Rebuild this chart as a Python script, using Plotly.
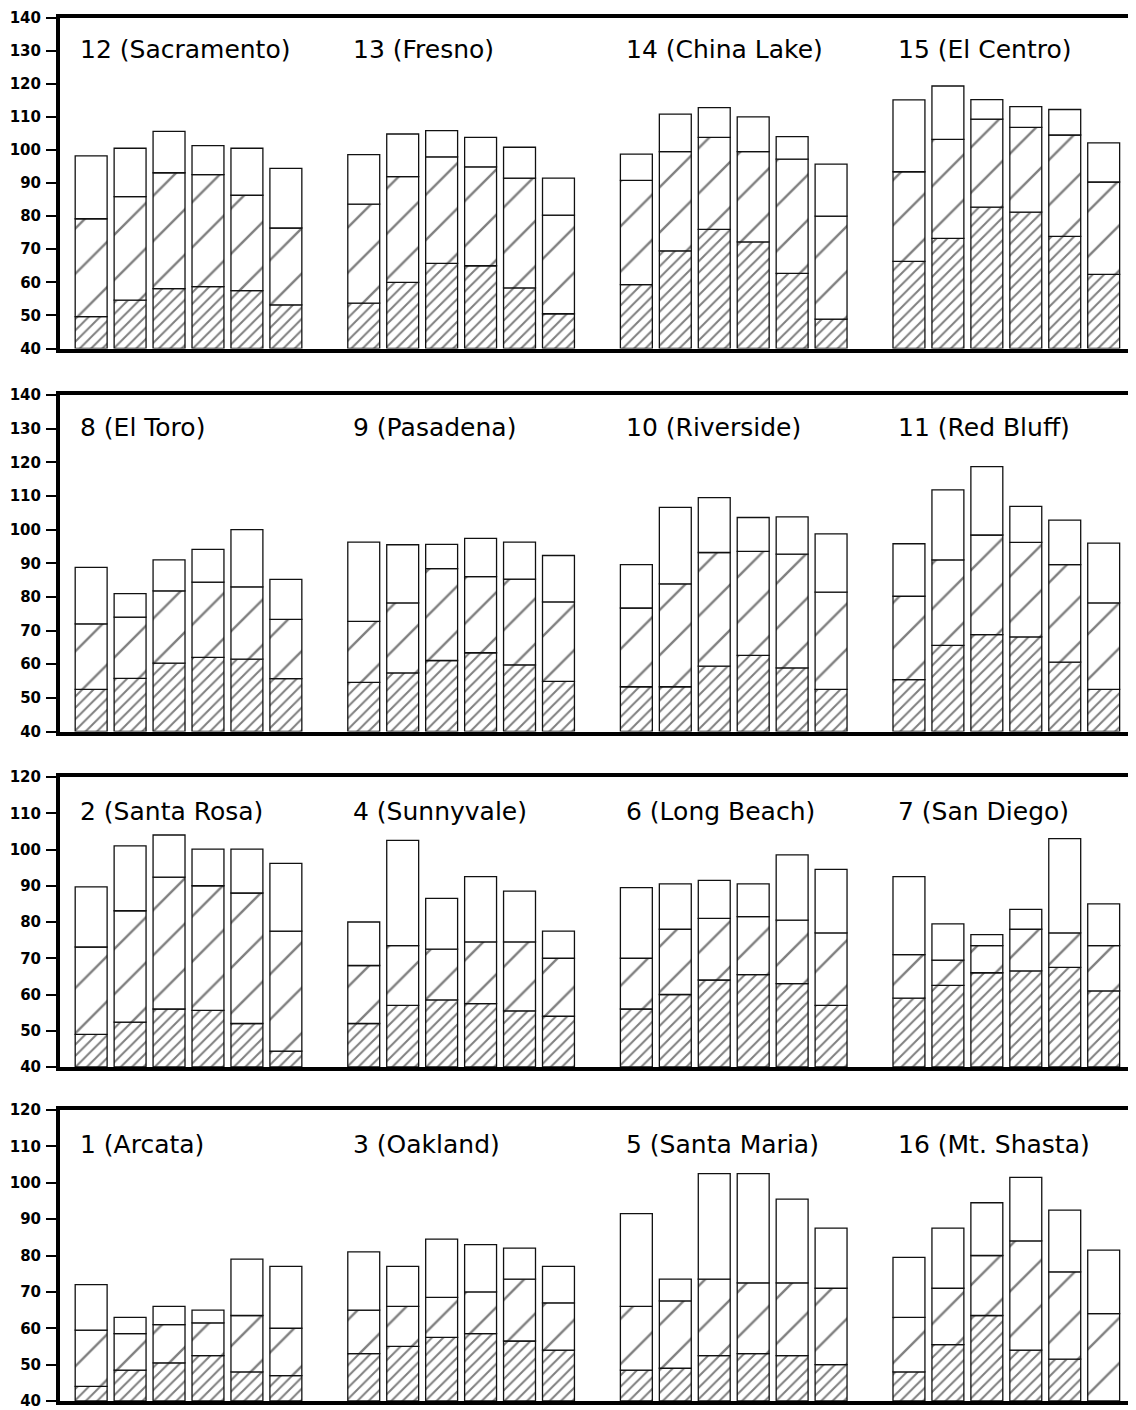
import plotly.graph_objects as go
from plotly.subplots import make_subplots

# station panels, one row of the figure per block
# low = top of dense-hatched part, mid = top of sparse-hatched part, high = bar top

row1_titles = ["12 (Sacramento)", "13 (Fresno)", "14 (China Lake)", "15 (El Centro)"]
row1_low = [[49.6, 54.6, 58.1, 58.7, 57.5, 53.2],
            [53.7, 60.0, 65.7, 65.0, 58.3, 50.5],
            [59.3, 69.5, 76.0, 72.2, 62.7, 48.9],
            [66.3, 73.3, 82.7, 81.2, 73.9, 62.4]]
row1_mid = [[79.2, 85.9, 93.1, 92.5, 86.3, 76.4],
            [83.6, 91.9, 97.9, 94.9, 91.5, 80.3],
            [90.8, 99.5, 103.8, 99.5, 97.2, 80.0],
            [93.4, 103.2, 109.3, 106.8, 104.5, 90.3]]
row1_high = [[98.2, 100.5, 105.6, 101.3, 100.5, 94.4],
             [98.6, 104.8, 105.8, 103.8, 100.8, 91.5],
             [98.7, 110.8, 112.8, 110.0, 104.0, 95.7],
             [115.1, 119.3, 115.2, 113.1, 112.2, 102.1]]

row2_titles = ["8 (El Toro)", "9 (Pasadena)", "10 (Riverside)", "11 (Red Bluff)"]
row2_low = [[52.5, 55.8, 60.3, 62.0, 61.5, 55.7],
            [54.6, 57.4, 61.1, 63.4, 59.8, 54.9],
            [53.3, 53.3, 59.4, 62.6, 58.9, 52.5],
            [55.4, 65.6, 68.8, 68.1, 60.6, 52.5]]
row2_mid = [[72.0, 74.0, 81.8, 84.4, 83.0, 73.3],
            [72.7, 78.2, 88.4, 86.0, 85.3, 78.5],
            [76.7, 83.9, 93.2, 93.5, 92.7, 81.4],
            [80.2, 91.0, 98.4, 96.2, 89.6, 78.2]]
row2_high = [[88.8, 81.0, 91.0, 94.1, 100.0, 85.2],
             [96.3, 95.5, 95.6, 97.4, 96.3, 92.3],
             [89.6, 106.6, 109.5, 103.6, 103.8, 98.7],
             [95.8, 111.8, 118.7, 106.9, 102.8, 96.0]]

row3_titles = ["2 (Santa Rosa)", "4 (Sunnyvale)", "6 (Long Beach)", "7 (San Diego)"]
row3_low = [[49.0, 52.4, 56.0, 55.6, 52.0, 44.4],
            [52.0, 57.0, 58.5, 57.5, 55.5, 54.0],
            [56.0, 60.0, 64.0, 65.5, 63.0, 57.0],
            [59.0, 62.5, 66.0, 66.5, 67.5, 61.0]]
row3_mid = [[73.1, 83.1, 92.4, 90.0, 88.0, 77.5],
            [68.0, 73.5, 72.5, 74.5, 74.5, 70.0],
            [70.0, 78.0, 81.0, 81.5, 80.5, 77.0],
            [71.0, 69.5, 73.5, 78.0, 77.0, 73.5]]
row3_high = [[89.7, 101.0, 104.0, 100.1, 100.1, 96.2],
             [80.0, 102.5, 86.5, 92.5, 88.5, 77.5],
             [89.5, 90.5, 91.5, 90.5, 98.5, 94.5],
             [92.5, 79.5, 76.5, 83.5, 103.0, 85.0]]

row4_titles = ["1 (Arcata)", "3 (Oakland)", "5 (Santa Maria)", "16 (Mt. Shasta)"]
row4_low = [[44.0, 48.5, 50.5, 52.5, 48.0, 47.0],
            [53.0, 55.0, 57.5, 58.5, 56.5, 54.0],
            [48.5, 49.0, 52.5, 53.0, 52.5, 50.0],
            [48.0, 55.5, 63.5, 54.0, 51.5, 40.0]]
row4_mid = [[59.5, 58.5, 61.0, 61.5, 63.5, 60.0],
            [65.0, 66.0, 68.5, 70.0, 73.5, 67.0],
            [66.0, 67.5, 73.5, 72.5, 72.5, 71.0],
            [63.0, 71.0, 80.0, 84.0, 75.5, 64.0]]
row4_high = [[72.0, 63.0, 66.0, 65.0, 79.0, 77.0],
             [81.0, 77.0, 84.5, 83.0, 82.0, 77.0],
             [91.5, 73.5, 102.5, 102.5, 95.5, 87.5],
             [79.5, 87.5, 94.5, 101.5, 92.5, 81.5]]

y_max = [140, 140, 120, 120]
y_min = 40

rows = [
    (row1_titles, row1_low, row1_mid, row1_high),
    (row2_titles, row2_low, row2_mid, row2_high),
    (row3_titles, row3_low, row3_mid, row3_high),
    (row4_titles, row4_low, row4_mid, row4_high),
]

# the html page has an 8px body margin, so the figure is shrunk by that much
PAGE_MARGIN = 8
W = 1136 - PAGE_MARGIN
H = 1410 - PAGE_MARGIN
# panel top/bottom in page pixels (outer ones nudged so the end labels stay on the page)
row_px = [(17.5, 348.5), (395, 731.5), (777, 1067), (1110, 1401)]

SLOT = 7  # six bars + one empty slot per station
BAR_W = 0.82

fig = make_subplots(rows=4, cols=1)

layers = [
    ("dense", 8, 0.25),
    ("sparse", 32, 0.075),
    ("open", None, None),
]

for r, (titles, low, mid, high) in enumerate(rows, start=1):
    xs, b0, h0, b1, h1, b2, h2 = [], [], [], [], [], [], []
    for g in range(len(titles)):
        for i in range(len(low[g])):
            xs.append(g * SLOT + i)
            b0.append(y_min)
            h0.append(low[g][i] - y_min)
            b1.append(low[g][i])
            h1.append(mid[g][i] - low[g][i])
            b2.append(mid[g][i])
            h2.append(high[g][i] - mid[g][i])

    for (name, psize, psol), base, height in zip(layers, [b0, b1, b2], [h0, h1, h2]):
        marker = dict(color="white", line=dict(color="#111111", width=1.3))
        if psize:
            marker["pattern"] = dict(shape="/", size=psize, solidity=psol,
                                     fgcolor="black", bgcolor="white",
                                     fillmode="overlay")
        fig.add_trace(go.Bar(x=xs, y=height, base=base, width=BAR_W,
                             marker=marker, name=name, showlegend=False,
                             hoverinfo="skip"), row=r, col=1)

    for g, t in enumerate(titles):
        fig.add_annotation(x=g * SLOT - 0.33, y=y_max[r - 1] - 9.6, text=t,
                           xref="x" if r == 1 else f"x{r}",
                           yref="y" if r == 1 else f"y{r}",
                           xanchor="left", yanchor="middle", showarrow=False,
                           font=dict(family="DejaVu Sans", size=25, color="black"))

    top, bot = row_px[r - 1]
    top -= PAGE_MARGIN
    bot -= PAGE_MARGIN
    yname = "yaxis" if r == 1 else f"yaxis{r}"
    xname = "xaxis" if r == 1 else f"xaxis{r}"
    fig.layout[yname].update(
        domain=[1 - bot / H, 1 - top / H],
        range=[y_min, y_max[r - 1]], dtick=10, tick0=0,
        showgrid=False, zeroline=False, automargin=False,
        showline=True, linewidth=4, linecolor="black",
        ticks="outside", ticklen=10, tickwidth=2, tickcolor="black",
        ticklabelstandoff=2, ticklabeloverflow="allow",
        tickfont=dict(family="DejaVu Sans", size=15, color="black", weight="bold"),
    )
    fig.layout[xname].update(
        range=[-0.8, 26.83], showgrid=False, zeroline=False,
        showticklabels=False, ticks="", automargin=False,
        showline=True, linewidth=4, linecolor="black", mirror=True,
    )

fig.update_layout(
    width=W, height=H,
    margin=dict(l=60 - PAGE_MARGIN, r=0, t=0, b=0, autoexpand=False),
    barmode="overlay",
    paper_bgcolor="white", plot_bgcolor="white",
    showlegend=False,
)

fig.write_html("out.html")
